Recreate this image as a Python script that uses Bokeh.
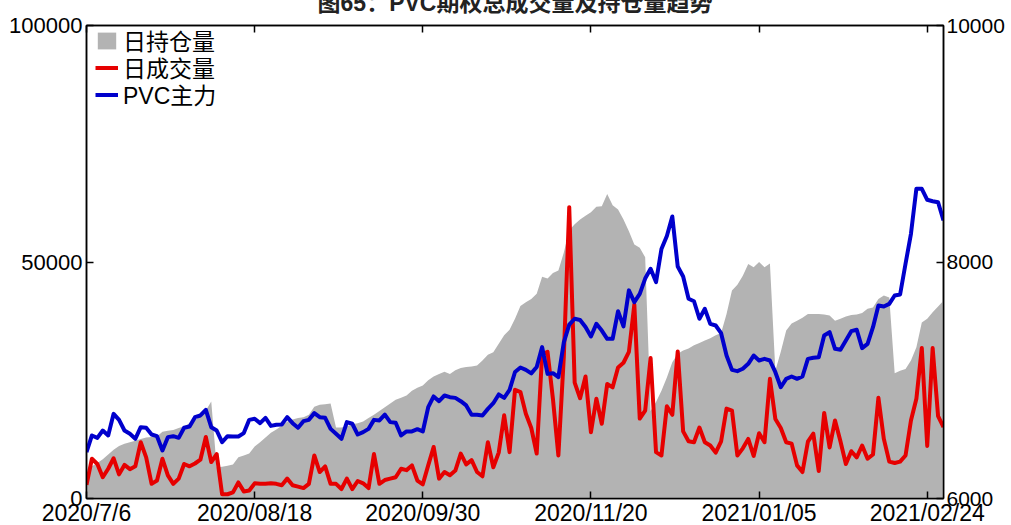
from bokeh.plotting import figure
from bokeh.models import (Range1d, LinearAxis, FixedTicker, Legend, LegendItem,
                          ColumnDataSource, NumeralTickFormatter)
from bokeh.embed import file_html
from bokeh.resources import INLINE

# ---------------- data ----------------
tick_idx = [0, 31, 62, 93, 124, 155]
tick_labels = ["2020/7/6", "2020/08/18", "2020/09/30", "2020/11/20", "2021/01/05", "2021/02/24"]

# 日持仓量 (left axis)
hold = [6000, 6800, 7500, 8300, 9300, 10300, 11100, 11600, 11900, 12200,
        12600, 12900, 13000, 13100, 14100, 14300, 14500, 14900, 15300, 15900,
        16600, 17400, 18600, 20500, 6600, 6700, 6900, 7200, 8700, 9100,
        9500, 11000, 11900, 12900, 13900, 14600, 15400, 16200, 16700, 17000,
        17200, 17700, 19400, 19800, 19900, 20100, 15000, 15000, 15300, 15700,
        15900, 16300, 17000, 17700, 18500, 19300, 20100, 20900, 21300, 21800,
        22800, 23400, 23900, 25000, 25800, 26300, 26800, 26300, 27100, 27600,
        27800, 27900, 28100, 29200, 30400, 30900, 32700, 34500, 35700, 38000,
        40700, 41500, 42200, 43300, 46900, 46500, 47700, 48200, 52000, 56700,
        58000, 59000, 59800, 60500, 61700, 61800, 64400, 62000, 61100, 59000,
        56500, 53700, 53000, 51000, 18500, 20400, 22800, 25600, 28800, 30600,
        31300, 31700, 32400, 32900, 33400, 33900, 34500, 35000, 39000, 44000,
        45200, 47100, 49600, 48900, 50000, 48900, 49700, 27000, 31000, 35500,
        37000, 37600, 38200, 39000, 39000, 39000, 38900, 38700, 37600, 38000,
        38500, 38800, 38900, 39200, 40100, 40400, 42200, 42900, 42500, 26500,
        27000, 27400, 29200, 32000, 37200, 38000, 39400, 40600, 41800]

# 日成交量 (left axis)
vol = [2900, 8400, 7300, 4500, 6300, 8500, 5100, 7100, 6200, 6800,
       11900, 8700, 3100, 3800, 8400, 4900, 3100, 4200, 7300, 6800,
       7400, 8200, 13000, 7700, 9400, 900, 900, 1300, 3400, 1500,
       1700, 3200, 3100, 3100, 3200, 3100, 2800, 4200, 2800, 2500,
       2200, 3100, 9100, 5600, 6800, 3100, 3100, 2000, 4200, 2000,
       3700, 3200, 2200, 9400, 3100, 3900, 4200, 4500, 6300, 6000,
       7000, 3800, 3000, 7000, 10900, 4200, 5600, 4900, 5900, 9500,
       7200, 8100, 5600, 4700, 11900, 6600, 9700, 17600, 9800, 23000,
       22500, 17900, 14900, 9500, 30500, 31000, 21000, 9100, 30000, 61600,
       24500, 21200, 25800, 14000, 21100, 15800, 24200, 23500, 27700, 28700,
       31000, 41000, 16900, 18600, 29700, 9800, 9100, 19500, 17700, 31100,
       14200, 12100, 11900, 15000, 11900, 11200, 9700, 12100, 19000, 18600,
       9100, 10600, 12600, 9000, 13800, 11900, 25300, 16800, 14900, 11900,
       11600, 7000, 5600, 12000, 13700, 5800, 18100, 10800, 16500, 12100,
       7300, 10000, 8700, 11200, 8400, 9300, 21300, 12600, 7800, 7500,
       7800, 9100, 16500, 21100, 31800, 11100, 31800, 17400, 15100]

# PVC主力 (right axis)
price = [6392, 6533, 6513, 6575, 6533, 6716, 6665, 6575, 6547, 6505,
         6603, 6598, 6541, 6527, 6406, 6519, 6527, 6513, 6598, 6609,
         6688, 6702, 6750, 6603, 6575, 6476, 6527, 6524, 6524, 6553,
         6665, 6674, 6637, 6682, 6614, 6623, 6626, 6688, 6637, 6598,
         6654, 6665, 6722, 6688, 6682, 6589, 6547, 6505, 6646, 6632,
         6541, 6561, 6589, 6665, 6660, 6710, 6646, 6640, 6533, 6567,
         6567, 6586, 6567, 6772, 6863, 6823, 6871, 6857, 6851, 6823,
         6787, 6708, 6708, 6702, 6758, 6806, 6880, 6851, 6919, 7070,
         7108, 7088, 7058, 7112, 7280, 7054, 7060, 7026, 7320, 7470,
         7520, 7510, 7450, 7370, 7477, 7420, 7350, 7350, 7584, 7455,
         7760, 7660, 7730, 7860, 7943, 7830, 8110, 8220, 8385, 7962,
         7877, 7689, 7668, 7520, 7604, 7477, 7463, 7398, 7209, 7088,
         7077, 7097, 7139, 7209, 7167, 7181, 7167, 7068, 6941, 7012,
         7032, 7012, 7032, 7181, 7190, 7195, 7378, 7407, 7266, 7258,
         7336, 7415, 7427, 7272, 7308, 7449, 7632, 7624, 7646, 7717,
         7725, 7985, 8238, 8619, 8619, 8526, 8514, 8505, 8351]

series_names = ["日持仓量", "日成交量", "PVC主力"]
title_text = "图65：PVC期权总成交量及持仓量趋势"
left_ticks = [0, 50000, 100000]
right_ticks = [6000, 8000, 10000]

# ---------------- figure ----------------
idx = list(range(len(hold)))
src = ColumnDataSource(dict(x=idx, hold=hold, vol=vol, price=price))

FONT = "'Liberation Sans', 'Noto Sans CJK SC', sans-serif"

p = figure(width=1010, height=552, output_backend="svg", toolbar_location=None,
           x_range=Range1d(0, len(hold) - 1), y_range=Range1d(0, 100000),
           min_border_left=86, min_border_right=67, min_border_top=48,
           min_border_bottom=31, title=title_text)
p.styles = {"margin-top": "-23px", "margin-bottom": "-40px"}

p.title.text_font = FONT
p.title.text_font_size = "23px"
p.title.text_font_style = "bold"
p.title.align = "center"
p.title.text_color = "#222222"
p.title.standoff = 20

p.xgrid.visible = False
p.ygrid.visible = False
p.outline_line_color = "black"
p.outline_line_width = 1.5
p.background_fill_color = "white"
p.border_fill_color = "white"

p.extra_y_ranges = {"price": Range1d(6000, 10000)}

r_hold = p.varea(x="x", y1=0, y2="hold", source=src, fill_color="#B3B3B3")
r_vol = p.line(x="x", y="vol", source=src, line_color="#E60000", line_width=4,
               line_join="round")
r_price = p.line(x="x", y="price", source=src, y_range_name="price",
                 line_color="#0000CC", line_width=4, line_join="round")

def style_axis(ax, size="22px"):
    ax.axis_line_color = "black"
    ax.axis_line_width = 1.5
    ax.major_tick_line_color = "black"
    ax.major_tick_line_width = 1.5
    ax.major_tick_in = 7
    ax.major_tick_out = 0
    ax.minor_tick_in = 0
    ax.minor_tick_out = 0
    ax.major_label_text_font = FONT
    ax.major_label_text_font_size = size
    ax.major_label_text_color = "black"

# bottom axis
xa = p.xaxis[0]
xa.ticker = FixedTicker(ticks=tick_idx)
xa.major_label_overrides = {i: l for i, l in zip(tick_idx, tick_labels)}
style_axis(xa, "23px")
xa.major_label_standoff = 1

# top axis (ticks only, no labels drawn)
xt = LinearAxis(ticker=FixedTicker(ticks=tick_idx))
style_axis(xt)
xt.major_label_text_font_size = "0px"
xt.major_label_text_color = None
xt.major_label_standoff = 0
p.add_layout(xt, "above")

# left axis
ya = p.yaxis[0]
ya.ticker = FixedTicker(ticks=left_ticks)
ya.formatter = NumeralTickFormatter(format="0")
style_axis(ya)
ya.major_label_standoff = 4

# right axis
yr = LinearAxis(y_range_name="price", ticker=FixedTicker(ticks=right_ticks),
                formatter=NumeralTickFormatter(format="0"))
style_axis(yr, "21px")
yr.major_label_standoff = 3
p.add_layout(yr, "right")

# legend: one row per Legend so that row spacing is exact
renderers = [r_hold, r_vol, r_price]
row_offsets = [441, 414, 387]
for name, rend, off in zip(series_names, renderers, row_offsets):
    lg = Legend(items=[LegendItem(label=name, renderers=[rend])], location=(9, off))
    lg.border_line_color = None
    lg.background_fill_alpha = 0
    lg.label_text_font = FONT
    lg.label_text_font_size = "23px"
    lg.label_text_color = "black"
    lg.glyph_width = 23
    lg.glyph_height = 21
    lg.label_height = 21
    lg.label_standoff = 5
    lg.padding = 0
    lg.margin = 0
    p.add_layout(lg)

open("out.html", "w").write(file_html(p, INLINE))
